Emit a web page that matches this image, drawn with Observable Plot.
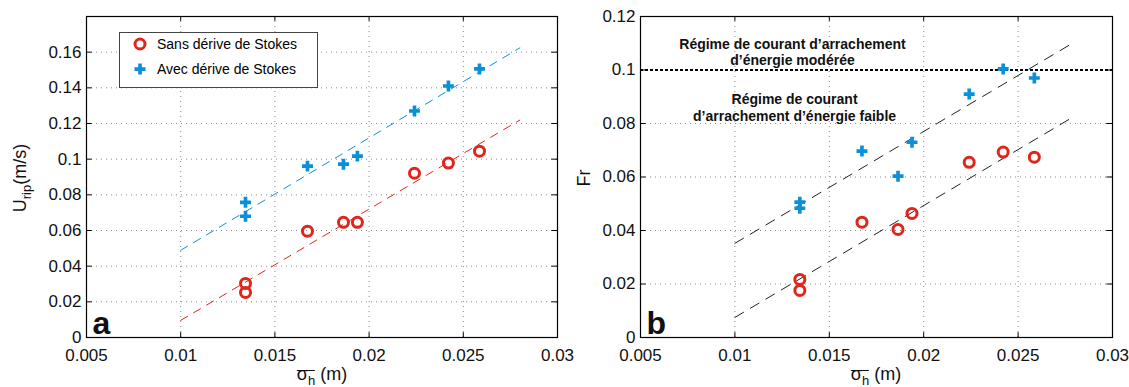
<!DOCTYPE html>
<html>
<head>
<meta charset="utf-8">
<script src="https://cdn.jsdelivr.net/npm/d3@7"></script>
<script src="https://cdn.jsdelivr.net/npm/@observablehq/plot@0.6"></script>
<style>
  body { margin: 0; background: #fff; font-family: "Liberation Sans", Arial, Helvetica, sans-serif; }
  #wrap { display: flex; width: 1129px; height: 387px; }
  .panel { position: relative; }
  .panel svg { overflow: visible; }
  #pa { z-index: 2; }
  .lab { position: absolute; font-size: 18px; color: #111; white-space: nowrap; line-height: 1; }
  .ylab { transform: translate(-50%, -50%) rotate(-90deg); }
  .xlab { transform: translate(-50%, 0); }
  .ov { position: relative; }
  .ov::before { content: ""; position: absolute; left: 0; right: 0; top: 6px; border-top: 1.3px solid #111; }
  sub { font-size: 13px; line-height: 0; }
  #legend { position: absolute; left: 119px; top: 32px; width: 197px; height: 54px; border: 1px solid #444; background: #fff; font-size: 14px; }
  #legend .row { position: absolute; left: 0; height: 20px; display: flex; align-items: center; }
</style>
</head>
<body>
<div id="wrap">
  <div class="panel" id="pa">
    <div class="lab ylab" style="left:20px; top:178px;">U<sub>rip</sub>(m/s)</div>
    <div class="lab xlab" style="left:322px; top:365px;"><span class="ov">σ<sub>h</sub></span> (m)</div>
    <div id="legend">
      <div class="row" style="top:1px;"><svg width="40" height="20"><circle cx="20" cy="10" r="5" fill="none" stroke="#e0261c" stroke-width="3"/></svg><span style="margin-left:-3px">Sans dérive de Stokes</span></div>
      <div class="row" style="top:26px;"><svg width="40" height="20"><path d="M18.2,4.5h3.7v11h-3.7zM14.5,8.2h11v3.7h-11z" fill="#0a90d8"/></svg><span style="margin-left:-3px">Avec dérive de Stokes</span></div>
    </div>
  </div>
  <div class="panel" id="pb">
    <div class="lab ylab" style="left:20px; top:178px;">Fr</div>
    <div class="lab xlab" style="left:312px; top:365px;"><span class="ov">σ<sub>h</sub></span> (m)</div>
  </div>
</div>
<script>
// ---- data ----
const xTicks = [0.005, 0.01, 0.015, 0.02, 0.025, 0.03];
const yTicksA = [0, 0.02, 0.04, 0.06, 0.08, 0.1, 0.12, 0.14, 0.16];
const yTicksB = [0, 0.02, 0.04, 0.06, 0.08, 0.1, 0.12];

const sigmaH = [0.01344, 0.01344, 0.01673, 0.01864, 0.01938, 0.02241, 0.02421, 0.02586];

// panel a: U_rip (m/s)
const uSans = [0.0303, 0.0253, 0.0596, 0.0646, 0.0646, 0.0921, 0.0978, 0.1045];
const uAvec = [0.0758, 0.0680, 0.0961, 0.0972, 0.1017, 0.1270, 0.1410, 0.1506];

// panel b: Fr
const frSans = [0.0217, 0.0176, 0.0431, 0.0404, 0.0464, 0.0655, 0.0693, 0.0674];
const frAvec = [0.0506, 0.0483, 0.0697, 0.0603, 0.0730, 0.0910, 0.1004, 0.0970];

// fitted lines
const fitX = [0.01, 0.028];
const fitAvecA = [0.0489, 0.1624];
const fitSansA = [0.0096, 0.1219];
const fitUpperB = [0.0352, 0.1105];
const fitLowerB = [0.0075, 0.0828];

const frThreshold = [0.1];
const annotText = ["Régime de courant d’arrachement\nd’énergie modérée", "Régime de courant\nd’arrachement d’énergie faible"];
const annotX = [0.01305, 0.01316];
const annotY = [0.1069, 0.0861];

const RED = "#e0261c", BLUE = "#0a90d8";
const fmt = d => d3.format("~g")(d);

const ptsA = sigmaH.map((x, i) => ({x, sans: uSans[i], avec: uAvec[i]}));
const ptsB = sigmaH.map((x, i) => ({x, sans: frSans[i], avec: frAvec[i]}));
const lineA = fitX.map((x, i) => ({x, avec: fitAvecA[i], sans: fitSansA[i]}));
const lineB = fitX.map((x, i) => ({x, up: fitUpperB[i], lo: fitLowerB[i]}));
const annots = annotText.map((t, i) => ({t, x: annotX[i], y: annotY[i]}));

function common(yTicks, yMax) {
  const xMin = xTicks[0], xMax = xTicks[xTicks.length - 1];
  const tx = (xMax - xMin) * 0.012, ty = yMax * 0.015;
  return [
    Plot.gridX(xTicks, {stroke: "#8a8a8a", strokeOpacity: 1, strokeDasharray: "1,4"}),
    Plot.gridY(yTicks, {stroke: "#8a8a8a", strokeOpacity: 1, strokeDasharray: "1,4"}),
    Plot.axisX(xTicks, {anchor: "bottom", tickSize: 0, tickPadding: 11, tickFormat: fmt, fontSize: 17, label: null}),
    Plot.axisY(yTicks, {anchor: "left", tickSize: 0, tickPadding: 5, tickFormat: fmt, fontSize: 17, label: null}),
    Plot.ruleX(xTicks, {x: d => d, y1: 0, y2: ty, stroke: "black"}),
    Plot.ruleX(xTicks, {x: d => d, y1: yMax, y2: yMax - ty, stroke: "black"}),
    Plot.ruleY(yTicks, {y: d => d, x1: xMin, x2: xMin + tx, stroke: "black"}),
    Plot.ruleY(yTicks, {y: d => d, x1: xMax, x2: xMax - tx, stroke: "black"}),
    Plot.frame({stroke: "black", strokeWidth: 1.2})
  ];
}

const baseStyle = {fontFamily: "'Liberation Sans', Arial, Helvetica, sans-serif", color: "#111", background: "none", overflow: "visible"};

const chartA = Plot.plot({
  width: 564, height: 387,
  marginLeft: 86, marginRight: 7, marginTop: 16, marginBottom: 50,
  style: baseStyle,
  x: {domain: [0.005, 0.03]},
  y: {domain: [0, 0.18]},
  marks: [
    ...common(yTicksA, 0.18),
    Plot.line(lineA, {x: "x", y: "avec", stroke: BLUE, strokeWidth: 1, strokeDasharray: "8,7"}),
    Plot.line(lineA, {x: "x", y: "sans", stroke: RED, strokeWidth: 1, strokeDasharray: "8,7"}),
    Plot.dot(ptsA, {x: "x", y: "sans", r: 5, stroke: RED, strokeWidth: 3, fill: "none"}),
    Plot.dot(ptsA, {x: "x", y: "avec", symbol: "cross", r: 4.6, fill: BLUE, stroke: "none"}),
    Plot.text(["a"], {frameAnchor: "bottom-left", dx: 6, dy: -4, fontSize: 32, fontWeight: "bold", fill: "#111", textAnchor: "start", lineAnchor: "bottom"})
  ]
});

const chartB = Plot.plot({
  width: 565, height: 387,
  marginLeft: 76, marginRight: 17, marginTop: 16, marginBottom: 50,
  style: baseStyle,
  x: {domain: [0.005, 0.03]},
  y: {domain: [0, 0.12]},
  marks: [
    ...common(yTicksB, 0.12),
    Plot.ruleY(frThreshold, {stroke: "black", strokeWidth: 2, strokeDasharray: "3,2"}),
    Plot.line(lineB, {x: "x", y: "up", stroke: "#222", strokeWidth: 1, strokeDasharray: "10,8"}),
    Plot.line(lineB, {x: "x", y: "lo", stroke: "#222", strokeWidth: 1, strokeDasharray: "10,8"}),
    Plot.dot(ptsB, {x: "x", y: "sans", r: 5, stroke: RED, strokeWidth: 3, fill: "none"}),
    Plot.dot(ptsB, {x: "x", y: "avec", symbol: "cross", r: 4.6, fill: BLUE, stroke: "none"}),
    Plot.text(annots, {x: "x", y: "y", text: "t", fontSize: 14, fontWeight: "bold", fill: "#111", lineHeight: 1.2, textAnchor: "middle"}),
    Plot.text(["b"], {frameAnchor: "bottom-left", dx: 6, dy: -4, fontSize: 32, fontWeight: "bold", fill: "#111", textAnchor: "start", lineAnchor: "bottom"})
  ]
});

document.getElementById("pa").prepend(chartA);
document.getElementById("pb").prepend(chartB);
</script>
</body>
</html>
